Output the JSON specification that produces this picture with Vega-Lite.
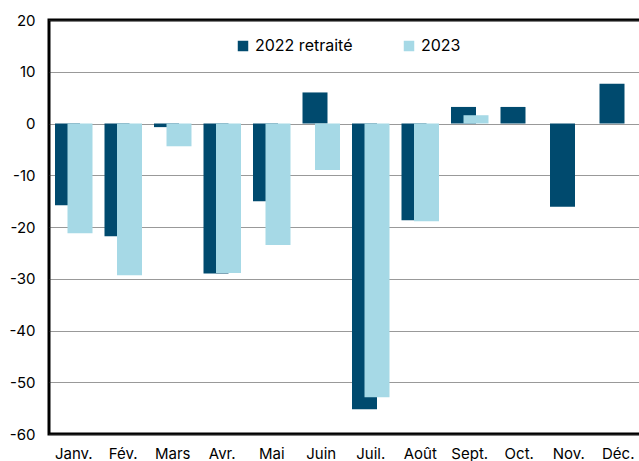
{
  "$schema": "https://vega.github.io/schema/vega-lite/v6.json",
  "width": 594,
  "height": 414,
  "autosize": {"type": "none"},
  "padding": {"left": 49, "top": 20, "right": 0, "bottom": 27},
  "config": {
    "font": "Inter",
    "view": {"stroke": "black", "strokeWidth": 3}
  },
  "data": {
    "values": [
      {"mois": "Janv.", "serie": "2022 retraité", "valeur": -15.8},
      {"mois": "Fév.", "serie": "2022 retraité", "valeur": -21.8},
      {"mois": "Mars", "serie": "2022 retraité", "valeur": -0.7},
      {"mois": "Avr.", "serie": "2022 retraité", "valeur": -29.0},
      {"mois": "Mai", "serie": "2022 retraité", "valeur": -15.0},
      {"mois": "Juin", "serie": "2022 retraité", "valeur": 6.0},
      {"mois": "Juil.", "serie": "2022 retraité", "valeur": -55.2},
      {"mois": "Août", "serie": "2022 retraité", "valeur": -18.7},
      {"mois": "Sept.", "serie": "2022 retraité", "valeur": 3.2},
      {"mois": "Oct.", "serie": "2022 retraité", "valeur": 3.2},
      {"mois": "Nov.", "serie": "2022 retraité", "valeur": -16.1},
      {"mois": "Déc.", "serie": "2022 retraité", "valeur": 7.7},
      {"mois": "Janv.", "serie": "2023", "valeur": -21.2},
      {"mois": "Fév.", "serie": "2023", "valeur": -29.3},
      {"mois": "Mars", "serie": "2023", "valeur": -4.4},
      {"mois": "Avr.", "serie": "2023", "valeur": -28.9},
      {"mois": "Mai", "serie": "2023", "valeur": -23.5},
      {"mois": "Juin", "serie": "2023", "valeur": -9.0},
      {"mois": "Juil.", "serie": "2023", "valeur": -52.9},
      {"mois": "Août", "serie": "2023", "valeur": -18.9},
      {"mois": "Sept.", "serie": "2023", "valeur": 1.6}
    ]
  },
  "encoding": {
    "x": {
      "field": "mois",
      "type": "nominal",
      "sort": ["Janv.", "Fév.", "Mars", "Avr.", "Mai", "Juin", "Juil.", "Août", "Sept.", "Oct.", "Nov.", "Déc."],
      "scale": {"domain": ["Janv.", "Fév.", "Mars", "Avr.", "Mai", "Juin", "Juil.", "Août", "Sept.", "Oct.", "Nov.", "Déc."], "paddingInner": 0, "paddingOuter": 0},
      "axis": {"title": null, "labelAngle": 0, "domain": false, "ticks": false, "labelPadding": 12, "labelFontSize": 15, "labelColor": "black"}
    },
    "y": {
      "field": "valeur",
      "type": "quantitative",
      "scale": {"domain": [-60, 20], "nice": false, "zero": false},
      "axis": {"title": null, "values": [-60, -50, -40, -30, -20, -10, 0, 10, 20], "labelExpr": "'' + datum.value", "grid": true, "gridColor": "#333", "gridDash": [1, 1], "gridWidth": 1, "domain": false, "ticks": false, "labelPadding": 14, "labelFontSize": 15, "labelColor": "black"}
    },
    "color": {
      "field": "serie",
      "type": "nominal",
      "scale": {"domain": ["2022 retraité", "2023"], "range": ["#004a6e", "#a6d9e6"]},
      "legend": {"title": null, "orient": "none", "direction": "horizontal", "legendX": 186, "legendY": 18, "symbolType": "square", "symbolSize": 110, "symbolStrokeWidth": 0, "labelFontSize": 16, "labelColor": "black", "columnPadding": 48, "labelOffset": 4, "padding": 0}
    }
  },
  "layer": [
    {
      "transform": [{"filter": "datum.serie == '2022 retraité'"}],
      "mark": {"type": "bar", "width": 25, "xOffset": -6.25}
    },
    {
      "transform": [{"filter": "datum.serie == '2023'"}],
      "mark": {"type": "bar", "width": 25, "xOffset": 6.25}
    },
    {
      "data": {"values": [{}]},
      "mark": {"type": "rule", "color": "black", "strokeWidth": 2.5},
      "encoding": {"x": null, "color": null, "y": {"datum": 0}}
    }
  ]
}
